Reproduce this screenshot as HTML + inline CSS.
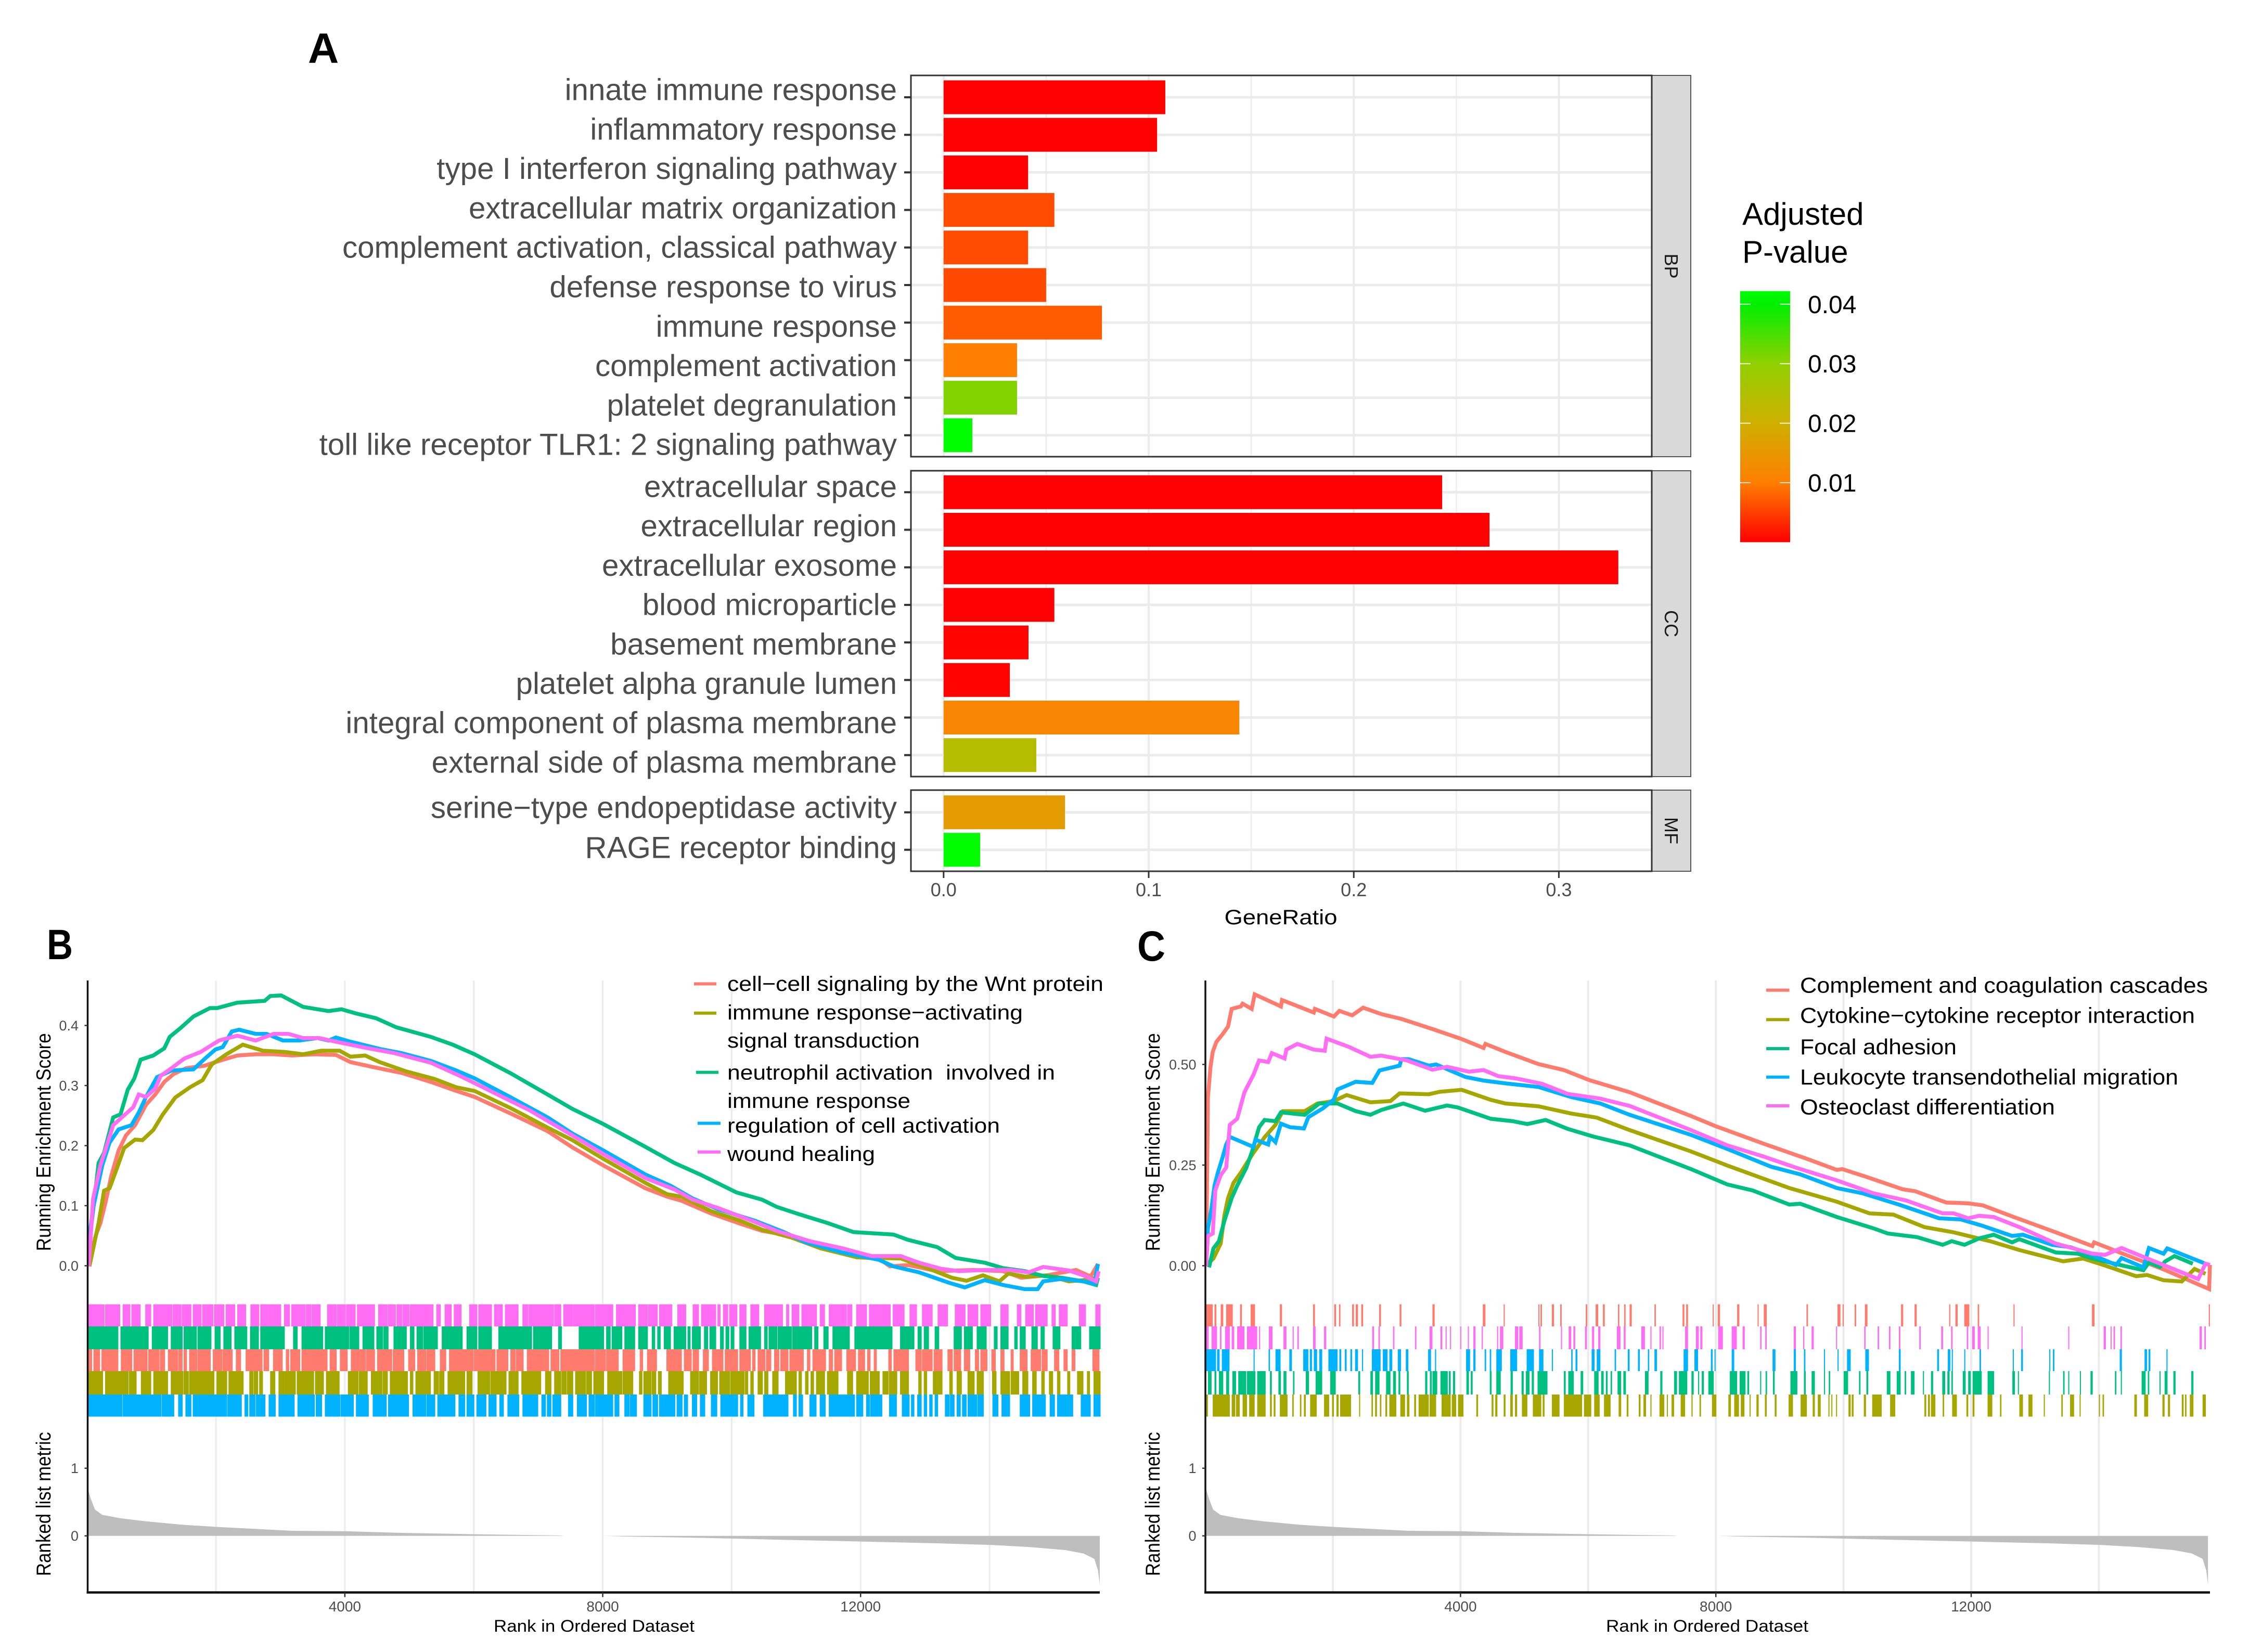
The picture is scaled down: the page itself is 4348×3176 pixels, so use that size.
<!DOCTYPE html>
<html>
<head>
<meta charset="utf-8">
<title>GO and GSEA enrichment figure</title>
<style>
html,body{margin:0;padding:0;background:#fff;}
svg{display:block;}
text{font-family:"Liberation Sans",sans-serif;}
</style>
</head>
<body>
<svg id="fig" xmlns="http://www.w3.org/2000/svg" width="4348" height="3176" viewBox="0 0 4348 3176">
<rect x="0" y="0" width="4348" height="3176" fill="#fff"/>
<defs id="defs"></defs>

<text x="592" y="121" font-size="82" font-weight="bold" fill="#000">A</text>
<text x="90" y="1844" font-size="82" font-weight="bold" fill="#000" textLength="50" lengthAdjust="spacingAndGlyphs">B</text>
<text x="2186" y="1847" font-size="82" font-weight="bold" fill="#000" textLength="54" lengthAdjust="spacingAndGlyphs">C</text>

<g id="chartA"></g>
<text x="2462" y="1777" font-size="40" text-anchor="middle" textLength="217" lengthAdjust="spacingAndGlyphs" fill="#000">GeneRatio</text>

<g>
  <text x="3349" y="432" font-size="60" fill="#000">Adjusted</text>
  <text x="3349" y="505" font-size="60" fill="#000">P-value</text>
  <g id="colorbar"></g>
</g>

<g id="chartB"></g>
<g id="chartC"></g>

<g>
  <line x1="1334" y1="1891.5" x2="1377" y2="1891.5" stroke="#FF7B6E" stroke-width="6"/>
  <line x1="1334" y1="1947.7" x2="1377" y2="1947.7" stroke="#A6A600" stroke-width="6"/>
  <line x1="1338" y1="2061.6" x2="1381" y2="2061.6" stroke="#00C080" stroke-width="6"/>
  <line x1="1341" y1="2159.5" x2="1385" y2="2159.5" stroke="#00B2FF" stroke-width="6"/>
  <line x1="1341" y1="2214.8" x2="1385" y2="2214.8" stroke="#FF6DF5" stroke-width="6"/>
  <text x="1398" y="1905" font-size="40" textLength="723" lengthAdjust="spacingAndGlyphs">cell−cell signaling by the Wnt protein</text>
  <text x="1398" y="1960" font-size="40" textLength="568" lengthAdjust="spacingAndGlyphs">immune response−activating</text>
  <text x="1398" y="2014" font-size="40" textLength="370" lengthAdjust="spacingAndGlyphs">signal transduction</text>
  <text x="1398" y="2075.7" font-size="40" textLength="630" lengthAdjust="spacingAndGlyphs">neutrophil activation&#160; involved in</text>
  <text x="1398" y="2130" font-size="40" textLength="352" lengthAdjust="spacingAndGlyphs">immune response</text>
  <text x="1398" y="2177.5" font-size="40" textLength="524" lengthAdjust="spacingAndGlyphs">regulation of cell activation</text>
  <text x="1398" y="2231.8" font-size="40" textLength="284" lengthAdjust="spacingAndGlyphs">wound healing</text>
</g>

<g>
  <line x1="3395" y1="1903.6" x2="3439.5" y2="1903.6" stroke="#FF7B6E" stroke-width="6"/>
  <line x1="3395" y1="1960.3" x2="3439.5" y2="1960.3" stroke="#A6A600" stroke-width="6"/>
  <line x1="3395" y1="2016" x2="3439.5" y2="2016" stroke="#00C080" stroke-width="6"/>
  <line x1="3395" y1="2070.8" x2="3439.5" y2="2070.8" stroke="#00B2FF" stroke-width="6"/>
  <line x1="3395" y1="2126" x2="3439.5" y2="2126" stroke="#FF6DF5" stroke-width="6"/>
  <text x="3460" y="1908.5" font-size="42" textLength="784" lengthAdjust="spacingAndGlyphs">Complement and coagulation cascades</text>
  <text x="3460" y="1966.6" font-size="42" textLength="759" lengthAdjust="spacingAndGlyphs">Cytokine−cytokine receptor interaction</text>
  <text x="3460" y="2027" font-size="42" textLength="301" lengthAdjust="spacingAndGlyphs">Focal adhesion</text>
  <text x="3460" y="2085" font-size="42" textLength="727" lengthAdjust="spacingAndGlyphs">Leukocyte transendothelial migration</text>
  <text x="3460" y="2142.6" font-size="42" textLength="490" lengthAdjust="spacingAndGlyphs">Osteoclast differentiation</text>
</g>
</svg>

<script>
/* ---------- Panel A data ---------- */
const bpTerms = ["innate immune response","inflammatory response","type I interferon signaling pathway","extracellular matrix organization","complement activation, classical pathway","defense response to virus","immune response","complement activation","platelet degranulation","toll like receptor TLR1: 2 signaling pathway"];
const bpRatio = [0.1081,0.1041,0.0412,0.054,0.0412,0.05,0.0772,0.0358,0.0358,0.014];
const bpPadj = [0.0001,0.0001,0.0001,0.006,0.006,0.0058,0.0072,0.0101,0.031,0.042];
const ccTerms = ["extracellular space","extracellular region","extracellular exosome","blood microparticle","basement membrane","platelet alpha granule lumen","integral component of plasma membrane","external side of plasma membrane"];
const ccRatio = [0.2431,0.2662,0.329,0.054,0.0414,0.0323,0.1442,0.0452];
const ccPadj = [0.0001,0.0001,0.0001,0.0001,0.0002,0.0002,0.0115,0.024];
const mfTerms = ["serine−type endopeptidase activity","RAGE receptor binding"];
const mfRatio = [0.0592,0.0178];
const mfPadj = [0.0158,0.042];
const ratioTicks = [0,0.1,0.2,0.3];
const ratioMinorTicks = [0.05,0.15,0.25];
const pvalTicks = [0.01,0.02,0.03,0.04];
const pvalStops = [0,0.01,0.02,0.03,0.04,0.0422];
const pvalColors = ["#ff0000","#ff7e00","#cfb000","#90d000","#00f000","#00ff00"];

/* ---------- Panel B data: running score curves (rank, score) ---------- */
const bRedRank = [27,135,208,293,378,491,605,746,916,1058,1199,1341,1539,1822,2049,2332,2615,2898,3181,3521,3861,4087,4427,4880,5333,5673,6013,6579,7145,7531,8008,8660,9000,9226,9679,10132,10472,10811,11208,11491,11944,12284,12454,12737,13190,13757,14209,14492,14889,15342,15569,15682];
const bRedScore = [0.003,0.05,0.071,0.108,0.15,0.192,0.217,0.234,0.268,0.285,0.306,0.319,0.329,0.333,0.341,0.35,0.352,0.352,0.35,0.352,0.351,0.339,0.331,0.321,0.306,0.293,0.281,0.253,0.224,0.197,0.167,0.129,0.115,0.108,0.087,0.07,0.058,0.052,0.041,0.029,0.014,0.012,-0.001,0.001,-0.009,-0.007,-0.009,-0.02,-0.016,-0.007,-0.018,0.003];
const bOliveRank = [38,180,265,350,463,576,746,860,1029,1171,1369,1596,1794,1935,2162,2417,2728,3068,3351,3634,3918,4087,4314,4541,4937,5390,5730,6013,6579,7145,7531,8008,8660,9000,9226,9679,10132,10472,10925,11378,11944,12624,12964,13416,13643,13898,14153,14294,14549,14889,15229,15455,15682];
const bOliveScore = [-0.001,0.071,0.125,0.129,0.162,0.196,0.21,0.209,0.226,0.251,0.28,0.297,0.309,0.335,0.352,0.368,0.358,0.356,0.352,0.358,0.358,0.348,0.35,0.339,0.324,0.311,0.297,0.291,0.262,0.23,0.209,0.178,0.138,0.119,0.115,0.091,0.075,0.06,0.047,0.029,0.014,0.012,-0.001,-0.02,-0.025,-0.016,-0.026,-0.013,-0.018,-0.016,-0.026,-0.024,-0.02];
const bGreenRank = [27,67,180,265,407,520,633,735,831,1029,1199,1284,1454,1652,1907,2020,2332,2757,2842,3012,3351,3748,3946,4172,4484,4795,5333,5673,6013,6579,7145,7531,8008,8660,9113,9509,10075,10472,10698,11038,11491,11888,12510,12737,13190,13473,13926,14209,14549,14832,15115,15455,15653,15682];
const bGreenScore = [0.003,0.066,0.171,0.188,0.247,0.252,0.293,0.312,0.343,0.35,0.362,0.381,0.396,0.415,0.429,0.429,0.438,0.441,0.449,0.45,0.431,0.424,0.427,0.42,0.412,0.397,0.381,0.368,0.352,0.32,0.285,0.261,0.236,0.198,0.171,0.152,0.122,0.11,0.098,0.086,0.071,0.056,0.052,0.043,0.031,0.013,0.005,-0.004,-0.009,-0.017,-0.02,-0.026,-0.032,-0.02];
const bBlueRank = [27,95,237,350,491,690,803,916,1086,1313,1652,1822,1992,2105,2247,2360,2615,2785,3040,3295,3578,3748,3861,4087,4541,4880,5333,5730,6013,6579,7145,7531,8008,8660,9056,9396,9792,10359,10811,11151,11718,12284,12510,12907,13360,13615,13926,14209,14549,14747,14832,15115,15455,15625,15682];
const bBlueScore = [0.041,0.096,0.167,0.205,0.227,0.234,0.255,0.281,0.314,0.325,0.327,0.344,0.36,0.364,0.39,0.393,0.386,0.386,0.375,0.375,0.379,0.375,0.38,0.373,0.361,0.354,0.341,0.325,0.312,0.28,0.247,0.22,0.192,0.152,0.133,0.112,0.094,0.075,0.056,0.039,0.022,0.01,-0.001,-0.011,-0.028,-0.036,-0.024,-0.032,-0.039,-0.039,-0.026,-0.022,-0.026,-0.03,0.003];
const bPinkRank = [27,95,208,407,520,718,803,916,1058,1143,1313,1511,1765,2049,2332,2615,2898,3125,3351,3606,3861,4314,4767,5333,5786,6296,6862,7531,8008,8660,9113,9396,9792,10359,10698,11208,11718,12171,12624,12907,13247,13530,13926,14322,14606,14832,15229,15455,15653,15693];
const bPinkScore = [-0.001,0.112,0.167,0.234,0.245,0.264,0.285,0.281,0.295,0.316,0.329,0.345,0.356,0.375,0.383,0.375,0.386,0.386,0.379,0.379,0.373,0.363,0.354,0.338,0.316,0.289,0.259,0.217,0.186,0.146,0.127,0.11,0.096,0.073,0.058,0.041,0.029,0.016,0.016,0.005,-0.005,-0.009,-0.007,-0.007,-0.011,-0.002,-0.008,-0.016,-0.026,-0.009];

/* ---------- Panel B data: gene-hit rank spans (start,end pairs) ---------- */
const bHitsPink = [10,248,293,503,565,661,701,820,916,984,1041,1245,1267,1312,1341,1454,1483,1607,1652,1765,1799,1947,1981,2117,2162,2287,2343,2456,2547,2660,2700,2802,2825,3000,3068,3136,3181,3249,3266,3380,3408,3465,3493,3612,3736,3861,3889,4003,4031,4155,4200,4455,4529,4654,4682,4779,4813,4881,4909,4994,5022,5107,5118,5362,5430,5475,5560,5645,5702,5798,5940,6042,6082,6269,6325,6438,6495,6682,6767,6835,6863,7231,7259,7344,7400,7530,7555,7867,7895,8150,8218,8501,8563,8688,8716,8840,8886,9067,9169,9282,9407,9481,9537,9747,9792,9815,9877,9934,9973,10075,10132,10217,10302,10415,10517,10783,10857,10880,10942,11038,11095,11310,11378,11435,11519,11774,11803,11859,11944,12086,12142,12454,12511,12669,12771,12862,12964,13105,13207,13343,13473,13615,13671,13813,13870,14011,14181,14283,14436,14481,14566,14674,14719,14889,14974,15014,15087,15200,15398,15483,15653,15710];
const bHitsGreen = [27,474,531,944,1018,1245,1312,1471,1511,1692,1726,1918,1992,2060,2128,2230,2298,2474,2541,2654,2700,3056,3209,3255,3340,3651,3702,4058,4086,4211,4286,4445,4501,4580,4609,4665,4767,4948,5022,5067,5124,5203,5231,5430,5515,5815,5900,6042,6082,6269,6393,6891,6931,7202,7321,7355,7640,8008,8065,8110,8150,8291,8348,8490,8563,8688,8773,8801,8858,8886,8960,9045,9113,9282,9328,9350,9396,9509,9583,9622,9668,9747,9832,9866,9917,9951,9996,10030,10132,10217,10274,10443,10517,10546,10585,10698,10727,10925,10953,11236,11293,11333,11435,11491,11576,11820,11916,12482,12624,12822,12896,12935,12992,13048,13161,13207,13456,13558,13615,13728,13813,13943,14079,14113,14181,14283,14396,14425,14481,14549,14662,14736,14804,14844,14991,15087,15285,15410,15557,15710];
const bHitsRed = [27,67,112,191,237,474,537,690,735,928,962,1114,1143,1199,1267,1398,1426,1471,1511,1539,1596,1698,1726,1907,1964,2089,2117,2247,2321,2377,2473,2711,2751,2813,2898,3023,3097,3125,3165,3295,3340,3719,3776,3861,3935,4031,4105,4314,4342,4455,4512,4722,4756,4909,4994,5079,5135,5249,5277,5390,5486,5560,5628,5985,6013,6325,6364,6523,6579,6636,6664,6761,6835,7157,7202,7315,7355,7527,7527,7867,7895,8037,8065,8235,8320,8490,8586,8614,8699,8829,9000,9215,9271,9368,9407,9481,9566,9634,9707,9860,9905,10087,10132,10285,10330,10358,10415,10511,10545,10602,10670,10727,10766,10868,10908,11106,11180,11208,11265,11451,11519,11559,11604,11700,11791,11916,11972,12057,12114,12142,12216,12239,12442,12470,12522,12737,12862,12935,12964,13105,13145,13258,13360,13417,13456,13547,13615,13688,13785,13825,13870,13955,14040,14085,14181,14220,14340,14362,14481,14577,14651,14787,14821,14889,15013,15070,15160,15200,15285,15319,15608,15693];
const bHitsOlive = [27,237,293,548,565,632,661,757,848,984,1041,1245,1312,1483,1511,1567,1596,1964,2021,2162,2207,2417,2530,2570,2598,2643,2683,2717,2853,2909,2983,3056,3079,3151,3170,3226,3266,3510,3549,3662,3719,3906,4059,4200,4229,4342,4416,4569,4597,4654,4710,4965,5022,5050,5107,5322,5390,5447,5475,5532,5605,5854,5900,5968,6070,6240,6268,6495,6551,6682,6750,7033,7118,7192,7259,7344,7372,7429,7457,7530,7584,7725,7753,7821,7867,8008,8082,8291,8320,8461,8575,8603,8643,8745,8773,8818,8869,8903,9028,9243,9368,9481,9509,9605,9679,9775,9820,9962,9990,10188,10217,10245,10302,10330,10415,10472,10517,10557,10642,10715,10840,10998,11049,11077,11151,11180,11236,11265,11321,11435,11491,11644,11803,11871,11944,12114,12154,12284,12352,12425,12454,12556,12624,12737,12907,12935,12992,13020,13133,13258,13388,13417,13502,13558,13671,13756,13813,13898,14051,14096,14181,14306,14340,14447,14521,14589,14674,14719,14815,14844,14934,14974,15059,15087,15217,15240,15370,15444,15523,15546,15625,15710];
const bHitsBlue = [10,418,440,537,565,1143,1171,1228,1245,1301,1312,1341,1426,1471,1539,1607,1652,1992,2009,2162,2190,2389,2456,2490,2530,2603,2632,2756,2830,2915,2983,3209,3277,3521,3560,3634,3702,3918,3946,4003,4020,4127,4184,4359,4444,4637,4682,4756,4779,4982,5062,5249,5277,5390,5447,5702,5775,5854,5900,5996,6053,6183,6240,6341,6409,6454,6534,6692,6767,6987,7061,7106,7146,7191,7231,7344,7474,7530,7612,7742,7793,7867,7895,8150,8195,8246,8348,8405,8433,8518,8643,8745,8784,8846,8886,9113,9158,9225,9271,9311,9396,9452,9520,9577,9690,9764,9837,10087,10143,10171,10256,10341,10500,10868,10964,10998,11049,11095,11219,11304,11378,11446,11519,11899,11944,12029,12097,12131,12159,12324,12454,12550,12652,12748,12794,12822,12890,12935,12992,13020,13077,13105,13161,13190,13320,13371,13399,13445,13502,13541,13586,13632,13671,13796,13824,13898,14057,14125,14198,14306,14481,14617,14674,14861,14945,15002,15059,15144,15161,15217,15240,15285,15427,15557,15625,15710];

/* ---------- Panel C data: running score curves (rank, score) ---------- */
const cRedRank = [15,43,83,118,175,272,358,415,558,586,729,775,1187,1204,1702,1719,2016,2102,2302,2474,2760,3074,3560,4018,4361,4390,4704,5219,5619,6019,6649,7610,8007,8751,9437,9895,9980,10352,10924,11124,11610,11953,12182,12668,13326,13898,13926,14470,15042,15728,15740];
const cRedScore = [-0.001,0.419,0.494,0.531,0.556,0.575,0.594,0.638,0.644,0.651,0.638,0.674,0.644,0.66,0.629,0.638,0.619,0.633,0.622,0.641,0.625,0.613,0.588,0.563,0.541,0.551,0.531,0.501,0.486,0.461,0.431,0.372,0.346,0.303,0.265,0.238,0.24,0.221,0.19,0.185,0.157,0.155,0.15,0.121,0.083,0.049,0.058,0.024,-0.011,-0.058,0.002];
const cOliveRank = [43,129,243,300,358,443,558,644,758,930,1101,1216,1559,1759,2016,2216,2588,2903,3046,3503,3675,4018,4475,4704,5219,5734,6134,6649,7610,8179,9151,9895,10409,10781,11267,11725,12297,12754,13440,13755,14069,14584,14756,15014,15299,15499,15671];
const cOliveScore = [0.005,0.018,0.055,0.124,0.168,0.206,0.231,0.253,0.281,0.319,0.35,0.384,0.384,0.403,0.409,0.424,0.406,0.409,0.428,0.426,0.432,0.437,0.412,0.403,0.396,0.378,0.368,0.337,0.284,0.249,0.193,0.159,0.13,0.127,0.096,0.083,0.061,0.039,0.011,0.018,0.002,-0.026,-0.023,-0.036,-0.039,-0.008,-0.02];
const cGreenRank = [60,129,215,300,415,501,644,729,844,930,1101,1187,1559,1787,2073,2359,2588,2760,3103,3446,3789,3961,4475,4819,5047,5333,5677,6077,6649,7610,8179,8579,9151,9323,9895,10467,10695,11153,11553,11696,11896,12125,12354,12640,12754,13326,13669,13898,14412,14698,14784,14957,15042,15185,15471];
const cGreenScore = [-0.004,0.043,0.061,0.111,0.168,0.199,0.243,0.281,0.344,0.362,0.359,0.381,0.375,0.403,0.403,0.384,0.375,0.387,0.403,0.385,0.398,0.393,0.365,0.359,0.352,0.362,0.34,0.321,0.299,0.24,0.202,0.187,0.152,0.154,0.121,0.093,0.08,0.071,0.052,0.061,0.052,0.068,0.077,0.058,0.066,0.033,0.03,0.018,-0.001,-0.011,0.008,-0.003,0.011,0.024,0.005];
const cBlueRank = [15,43,100,146,198,272,329,386,758,787,987,1015,1101,1187,1330,1547,1616,1845,2016,2073,2359,2617,2731,3046,3074,3189,3503,3618,4075,4361,4704,5219,5734,6191,6649,7610,8179,8865,9323,9895,10295,10867,11496,11839,12182,12640,12811,13269,13555,13898,14269,14355,14698,14784,15014,15071,15671];
const cBlueScore = [-0.001,0.093,0.144,0.199,0.231,0.269,0.301,0.32,0.295,0.313,0.301,0.32,0.307,0.353,0.344,0.341,0.369,0.391,0.413,0.438,0.457,0.454,0.485,0.497,0.513,0.513,0.497,0.5,0.469,0.46,0.453,0.444,0.419,0.403,0.375,0.325,0.29,0.246,0.227,0.193,0.18,0.152,0.118,0.115,0.099,0.074,0.077,0.052,0.046,0.027,0.002,0.019,-0.004,0.044,0.03,0.043,0.005];
const cPinkRank = [15,43,118,158,243,329,386,501,615,758,844,987,1044,1244,1273,1444,1702,1873,1902,2245,2588,2760,3160,3560,3789,4132,4361,4590,4876,5276,5676,6191,6649,7610,8179,8751,9266,9895,10467,10981,11553,11725,11953,12125,12354,12754,13326,13898,14098,14355,14870,15556,15614,15671,15740];
const cPinkScore = [-0.001,0.074,0.08,0.187,0.225,0.244,0.35,0.365,0.431,0.475,0.51,0.506,0.528,0.515,0.537,0.551,0.537,0.534,0.564,0.544,0.519,0.522,0.51,0.487,0.494,0.482,0.486,0.471,0.465,0.452,0.427,0.415,0.397,0.337,0.299,0.271,0.243,0.212,0.18,0.162,0.13,0.13,0.118,0.124,0.121,0.096,0.055,0.03,0.027,0.044,0.011,-0.033,-0.014,0.005,0.002];

/* ---------- Panel C data: gene-hit rank spans (start,end pairs) ---------- */
const cHitsRed = [3,118,146,175,243,283,329,432,546,575,712,781,1170,1204,1690,1719,2022,2050,2096,2119,2302,2331,2359,2394,2445,2474,2725,2754,3046,3074,3560,3595,4349,4390,4676,4693,5219,5236,5253,5276,5431,5465,5562,5585,5962,5985,6117,6157,6231,6260,6466,6488,6563,6586,6649,6683,7038,7060,7478,7507,7535,7564,7950,7962,8030,8065,8333,8368,8654,8671,8751,8797,9420,9443,9906,9952,9986,10003,10175,10198,10335,10375,10901,10935,11113,11147,11656,11673,11753,11788,11891,11971,12102,12125,12663,12680,13892,13932,15722,15740];
const cHitsPink = [15,55,100,186,232,255,312,386,415,455,501,615,655,815,844,861,998,1055,1227,1273,1370,1387,1444,1467,1690,1730,1862,1896,2617,2645,2714,2737,2943,2965,3286,3309,3515,3560,3686,3715,3766,3783,3835,3852,3995,4007,4115,4132,4201,4235,4332,4350,4573,4590,4618,4670,4853,4904,4921,4973,5230,5253,5573,5591,5694,5734,5768,5797,5951,5980,6060,6094,6157,6191,6449,6506,6557,6586,6832,6889,6975,6992,7117,7140,7163,7180,7518,7564,7687,7733,7756,7790,8036,8110,8248,8328,8419,8453,8694,8716,8774,8797,9220,9254,9368,9386,9500,9534,9883,9900,10324,10346,10535,10558,10712,10735,10867,10890,11187,11210,11530,11559,11685,11708,11931,11954,12016,12056,12102,12148,12257,12274,12788,12805,13520,13537,14075,14110,14184,14201,14230,14253,14338,14361,15579,15614,15653,15676];
const cHitsBlue = [3,169,186,226,261,381,758,775,993,1015,1101,1181,1318,1359,1536,1616,1639,1673,1702,1753,1787,1833,1930,2073,2102,2131,2188,2216,2274,2302,2348,2394,2457,2474,2611,2748,2783,2857,2885,2931,3017,3068,3143,3183,3492,3538,3600,3618,4087,4150,4201,4235,4378,4401,4458,4481,4561,4647,4779,4887,5036,5150,5230,5299,5431,5448,5734,5756,5802,5831,6054,6100,6134,6191,6414,6437,6620,6649,6780,6809,6935,6957,7038,7078,7495,7564,7664,7721,7922,7950,7979,7996,8248,8288,8888,8934,9220,9254,9380,9403,9694,9706,9906,9923,10055,10112,10341,10398,10867,10895,11467,11496,11633,11673,11696,11713,11891,11908,12131,12154,12651,12668,12783,12811,13223,13240,13280,13303,14327,14361,14716,14756,14779,14807,15059,15076];
const cHitsGreen = [43,100,146,175,215,283,329,375,426,483,518,644,655,787,815,947,1015,1044,1147,1187,1227,1273,1376,1399,1576,1627,1730,1833,1959,2045,2399,2428,2588,2628,2662,2731,2834,2903,2943,2988,3028,3057,3160,3189,3446,3480,3520,3549,3560,3635,3686,3800,3818,3846,3881,3915,4092,4132,4161,4190,4458,4487,4561,4630,4784,4819,4956,4990,5024,5082,5116,5150,5207,5362,5619,5648,5688,5774,5882,5922,6094,6163,6203,6243,6277,6305,6351,6374,6460,6517,6551,6591,6889,6946,7129,7163,7346,7392,7421,7552,7618,7653,7721,7739,7779,7813,7882,7967,8219,8333,8373,8465,8493,8522,8694,8711,8779,8802,8894,8922,9168,9277,9380,9408,9500,9551,9694,9711,9769,9791,10003,10072,10243,10266,10358,10387,10678,10735,10833,10895,10958,10981,11056,11113,11244,11261,11370,11404,11547,11593,11627,11662,11690,11713,11868,11914,11953,11993,12022,12165,12257,12359,12645,12685,12731,12748,13217,13234,13440,13463,13520,13537,13703,13714,13869,13904,14252,14275,14344,14361,14670,14733,14767,14790,14950,14967,15030,15076,15167,15202,15448,15482];
const cHitsOlive = [15,43,118,386,415,472,483,541,586,655,689,775,815,947,1015,1044,1073,1101,1170,1290,1364,1387,1484,1507,1547,1576,1644,1747,1862,1942,1988,2016,2056,2090,2113,2285,2411,2428,2605,2628,2662,2691,2737,2760,2823,2851,2885,2994,3057,3131,3160,3200,3274,3303,3343,3503,3515,3618,3703,3846,3863,3932,3961,4046,4247,4275,4487,4516,4544,4578,4676,4705,4779,4819,4853,4887,4962,5047,5133,5265,5287,5316,5431,5551,5619,5905,5934,6048,6094,6180,6248,6351,6477,6517,6603,6631,6792,6820,6866,6906,6975,6992,7117,7192,7232,7249,7306,7346,7449,7518,7618,7636,7744,7767,7939,8007,8196,8236,8288,8362,8391,8448,8528,8545,8636,8671,8768,8797,8922,8951,9140,9208,9328,9426,9517,9551,9597,9643,9763,9780,9809,9820,9883,9895,10078,10112,10129,10158,10318,10352,10449,10598,10730,10810,11267,11296,11324,11353,11370,11439,11553,11576,11702,11776,11925,11954,12022,12051,12257,12331,12451,12474,12754,12811,12897,12960,13137,13154,13412,13435,13549,13612,13698,13715,14001,14018,14058,14081,14556,14596,14710,14773,14996,15030,15082,15116,15299,15328,15350,15373,15425,15482,15625,15676];

/* ---------- Shared ranked-list metric ---------- */
const metricRanks = [0,55,123,237,520,916,1483,2049,3181,4031,4880,6013,7315,7400,8000,8376,9565,10642,12057,13190,14040,14606,15172,15455,15625,15682,15710];
const metricValues = [0.74,0.56,0.39,0.31,0.26,0.215,0.164,0.13,0.075,0.068,0.044,0.024,0.006,0,0,-0.01,-0.03,-0.055,-0.085,-0.11,-0.135,-0.165,-0.21,-0.26,-0.34,-0.51,-0.72];

/* ---------- Axis ticks ---------- */
const rankGridTicks = [2000,4000,6000,8000,10000,12000,14000];
const rankLabelTicks = [4000,8000,12000];
const bScoreTicks = [0,0.1,0.2,0.3,0.4];
const cScoreTicks = [0,0.25,0.5];
const metricTicks = [0,1];

/* ---------- Helpers ---------- */
const NS = "http://www.w3.org/2000/svg";
function svgEl(tag, props, parent) {
  const el = document.createElementNS(NS, tag);
  for (const k in props) el.setAttribute(k, props[k]);
  parent.appendChild(el);
  return el;
}
function hexRgb(h){return [parseInt(h.slice(1,3),16),parseInt(h.slice(3,5),16),parseInt(h.slice(5,7),16)];}
function pvalColor(p){
  for(let i=1;i<pvalStops.length;i++){
    if(p<=pvalStops[i]){
      const t=(p-pvalStops[i-1])/(pvalStops[i]-pvalStops[i-1]);
      const a=hexRgb(pvalColors[i-1]),b=hexRgb(pvalColors[i]);
      return "rgb("+a.map((v,j)=>Math.round(v+(b[j]-v)*t)).join(",")+")";
    }
  }
  return pvalColors[pvalColors.length-1];
}

/* ---------- Panel A ---------- */
const ratioX = v => 1813.8 + 3942 * v;
const panelLeft = 1751, panelRight = 3175, stripRight = 3250;
function drawFacet(root, name, terms, ratio, padj, top, bottom, firstRow, rowStep, firstBase, baseStep) {
  const g = svgEl("g", {}, root);
  
  
  ratioMinorTicks.forEach(v => {
    const l = svgEl("line", {x1:ratioX(v),x2:ratioX(v),y1:top,y2:bottom,stroke:"#efefef","stroke-width":3}, g);
    
    
  });
  ratioTicks.forEach(v => {
    const l = svgEl("line", {x1:ratioX(v),x2:ratioX(v),y1:top,y2:bottom,stroke:"#ebebeb","stroke-width":4}, g);
    
    
  });
  terms.forEach((t,i) => {
    const y = firstRow + rowStep * i;
    const l = svgEl("line", {x1:panelLeft,x2:panelRight,y1:y,y2:y,stroke:"#ebebeb","stroke-width":5}, g);
    
    
  });
  terms.forEach((t,i) => {
    const y = firstRow + rowStep * i;
    const bar = svgEl("rect", {x:ratioX(0),y:y-32.5,width:ratioX(ratio[i])-ratioX(0),height:65,fill:pvalColor(padj[i])}, g);
    
    
    const tick = svgEl("line", {x1:panelLeft-13,x2:panelLeft,y1:y,y2:y,stroke:"#333","stroke-width":4}, g);
    
    
    const lab = svgEl("text", {x:1724,y:firstBase+baseStep*i,"font-size":58.3,"text-anchor":"end",fill:"#4d4d4d"}, g);
    lab.textContent = t;
    
    
  });
  const strip = svgEl("rect", {x:panelRight,y:top,width:stripRight-panelRight,height:bottom-top,fill:"#d9d9d9",stroke:"#555","stroke-width":2}, g);
  
  
  const border = svgEl("rect", {x:panelLeft,y:top,width:panelRight-panelLeft,height:bottom-top,fill:"none",stroke:"#333","stroke-width":3}, g);
  
  
  const st = svgEl("text", {transform:"translate(3200,"+(top+bottom)/2+") rotate(90)","font-size":36,"text-anchor":"middle",fill:"#1a1a1a"}, g);
  st.textContent = name;
  
  
}
const rootA = document.getElementById("chartA");
drawFacet(rootA, "BP", bpTerms, bpRatio, bpPadj, 145, 878, 187, 72.2, 192.7, 75.76);
drawFacet(rootA, "CC", ccTerms, ccRatio, ccPadj, 905, 1493, 946.3, 72.2, 955.5, 75.7);
drawFacet(rootA, "MF", mfTerms, mfRatio, mfPadj, 1519, 1675, 1561.7, 72, 1572.5, 77);
ratioTicks.forEach(v => {
  const t = svgEl("line", {x1:ratioX(v),x2:ratioX(v),y1:1675,y2:1688,stroke:"#333","stroke-width":3}, rootA);
  
  
  const l = svgEl("text", {x:ratioX(v),y:1723,"font-size":36,"text-anchor":"middle",fill:"#4d4d4d"}, rootA);
  l.textContent = v.toFixed(1);
  
  
});

/* ---------- Colorbar ---------- */
const pvalY = p => 928 - (p - 0.01) * 11440;
const grad = svgEl("linearGradient", {id:"pvalGrad",x1:0,y1:1,x2:0,y2:0}, document.getElementById("defs"));
pvalStops.forEach((p,i) => {
  svgEl("stop", {offset:(p/pvalStops[pvalStops.length-1]),"stop-color":pvalColors[i]}, grad);
});
const cbRoot = document.getElementById("colorbar");
const cb = svgEl("rect", {x:3345,y:pvalY(pvalStops[pvalStops.length-1]),width:96,height:pvalY(0)-pvalY(pvalStops[pvalStops.length-1]),fill:"url(#pvalGrad)"}, cbRoot);


pvalTicks.forEach(p => {
  const a = svgEl("line", {x1:3345,x2:3365,y1:pvalY(p),y2:pvalY(p),stroke:"#fff","stroke-width":2,"stroke-opacity":0.85}, cbRoot);
  
  
  const b = svgEl("line", {x1:3421,x2:3441,y1:pvalY(p),y2:pvalY(p),stroke:"#fff","stroke-width":2,"stroke-opacity":0.85}, cbRoot);
  
  
  const l = svgEl("text", {x:3475,y:pvalY(p)+17,"font-size":48,fill:"#000"}, cbRoot);
  l.textContent = p.toFixed(2);
  
  
});

/* ---------- GSEA panels ---------- */
const COL = {red:"#FF7B6E",olive:"#A6A600",green:"#00C080",blue:"#00B2FF",pink:"#FF6DF5"};
const rugTop = 2507.5, rugBottoms = [2550,2594,2636,2681,2723.5];
const metricY = m => 2952.7 - 130 * m;
const AXIS_BOTTOM = 3061.5;

function drawGsea(rootId, cfg) {
  const root = document.getElementById(rootId);
  const x = r => cfg.x0 + cfg.xk * r;
  const y = v => 2433.4 - cfg.yk * v;
  rankGridTicks.forEach(r => {
    const l = svgEl("line", {x1:x(r),x2:x(r),y1:1885,y2:AXIS_BOTTOM,stroke:"#ebebeb","stroke-width":cfg.gridW}, root);
    
    
  });
  cfg.rugs.forEach((row,i) => {
    const top = i === 0 ? rugTop : rugBottoms[i-1];
    const bot = rugBottoms[i];
    const g = svgEl("g", {fill:COL[row[0]]}, root);
    
    
    const spans = row[1];
    for (let k = 0; k + 1 < spans.length; k += 2) {
      const x1 = x(spans[k]) - cfg.rugPad;
      const w = Math.max(x(spans[k+1]) - x(spans[k]), 2) + 2 * cfg.rugPad;
      const r = svgEl("rect", {x:Math.max(x1, cfg.axisX),y:top,width:w,height:bot-top}, g);
      
      
    }
  });
  let d = "M" + x(metricRanks[0]) + " " + metricY(0);
  metricRanks.forEach((r,i) => { d += "L" + x(r) + " " + metricY(metricValues[i]); });
  d += "L" + x(metricRanks[metricRanks.length-1]) + " " + metricY(0) + "Z";
  const area = svgEl("path", {d:d,fill:"#bebebe"}, root);
  
  
  cfg.lines.forEach(s => {
    const pts = s[1].map((r,i) => x(r).toFixed(1) + " " + y(s[2][i]).toFixed(1));
    const p = svgEl("path", {d:"M" + pts.join("L"),fill:"none",stroke:COL[s[0]],"stroke-width":7.5,"stroke-linejoin":"miter","stroke-miterlimit":3}, root);
    
    
  });
  const yAxis = svgEl("line", {x1:cfg.axisX,x2:cfg.axisX,y1:1885,y2:AXIS_BOTTOM+2,stroke:"#111","stroke-width":3.5}, root);
  
  
  const xAxis = svgEl("line", {x1:cfg.axisX-2,x2:cfg.xEnd,y1:AXIS_BOTTOM,y2:AXIS_BOTTOM,stroke:"#111","stroke-width":4.5}, root);
  
  
  cfg.scoreTicks.forEach(v => {
    const t = svgEl("line", {x1:cfg.axisX-6,x2:cfg.axisX,y1:y(v),y2:y(v),stroke:"#333","stroke-width":2.5}, root);
    
    
    const l = svgEl("text", {x:cfg.labelX,y:y(v)+9.5,"font-size":27,"text-anchor":"end",fill:"#4d4d4d"}, root);
    l.textContent = v.toFixed(cfg.dec);
    
    
  });
  metricTicks.forEach(v => {
    const t = svgEl("line", {x1:cfg.axisX-6,x2:cfg.axisX,y1:metricY(v),y2:metricY(v),stroke:"#333","stroke-width":2.5}, root);
    
    
    const l = svgEl("text", {x:cfg.labelX,y:metricY(v)+9.5,"font-size":27,"text-anchor":"end",fill:"#4d4d4d"}, root);
    l.textContent = String(v);
    
    
  });
  rankLabelTicks.forEach(r => {
    const t = svgEl("line", {x1:x(r),x2:x(r),y1:AXIS_BOTTOM,y2:AXIS_BOTTOM+9,stroke:"#333","stroke-width":2.5}, root);
    
    
    const l = svgEl("text", {x:x(r),y:3098,"font-size":28,"text-anchor":"middle",fill:"#4d4d4d"}, root);
    l.textContent = String(r);
    
    
  });
  const t1 = svgEl("text", {transform:"translate("+cfg.titleX+",2195.7) rotate(-90)","font-size":39,"text-anchor":"middle",textLength:419,lengthAdjust:"spacingAndGlyphs",fill:"#000"}, root);
  t1.textContent = "Running Enrichment Score";
  
  
  const t2 = svgEl("text", {transform:"translate("+cfg.titleX+",2891.5) rotate(-90)","font-size":39,"text-anchor":"middle",textLength:277,lengthAdjust:"spacingAndGlyphs",fill:"#000"}, root);
  t2.textContent = "Ranked list metric";
  
  
  const t3 = svgEl("text", {x:cfg.rankTitleX,y:3137,"font-size":32,"text-anchor":"middle",textLength:cfg.rankTitleW,lengthAdjust:"spacingAndGlyphs",fill:"#000"}, root);
  t3.textContent = "Rank in Ordered Dataset";
  
  
}

drawGsea("chartB", {
  x0:167.2, xk:0.12392, yk:1154.8, axisX:168.5, xEnd:2114, labelX:151, titleX:97, gridW:3, rugPad:1.5,
  rankTitleX:1142, rankTitleW:386, dec:1, scoreTicks:bScoreTicks,
  rugs:[["pink",bHitsPink],["green",bHitsGreen],["red",bHitsRed],["olive",bHitsOlive],["blue",bHitsBlue]],
  lines:[["red",bRedRank,bRedScore],["olive",bOliveRank,bOliveScore],["green",bGreenRank,bGreenScore],["blue",bBlueRank,bBlueScore],["pink",bPinkRank,bPinkScore]]
});
drawGsea("chartC", {
  x0:2316.6, xk:0.1227, yk:774, axisX:2317, xEnd:4248, labelX:2299.5, titleX:2229, gridW:4, rugPad:0,
  rankTitleX:3281.5, rankTitleW:389, dec:2, scoreTicks:cScoreTicks,
  rugs:[["red",cHitsRed],["pink",cHitsPink],["blue",cHitsBlue],["green",cHitsGreen],["olive",cHitsOlive]],
  lines:[["red",cRedRank,cRedScore],["olive",cOliveRank,cOliveScore],["green",cGreenRank,cGreenScore],["blue",cBlueRank,cBlueScore],["pink",cPinkRank,cPinkScore]]
});
</script>
</body>
</html>
